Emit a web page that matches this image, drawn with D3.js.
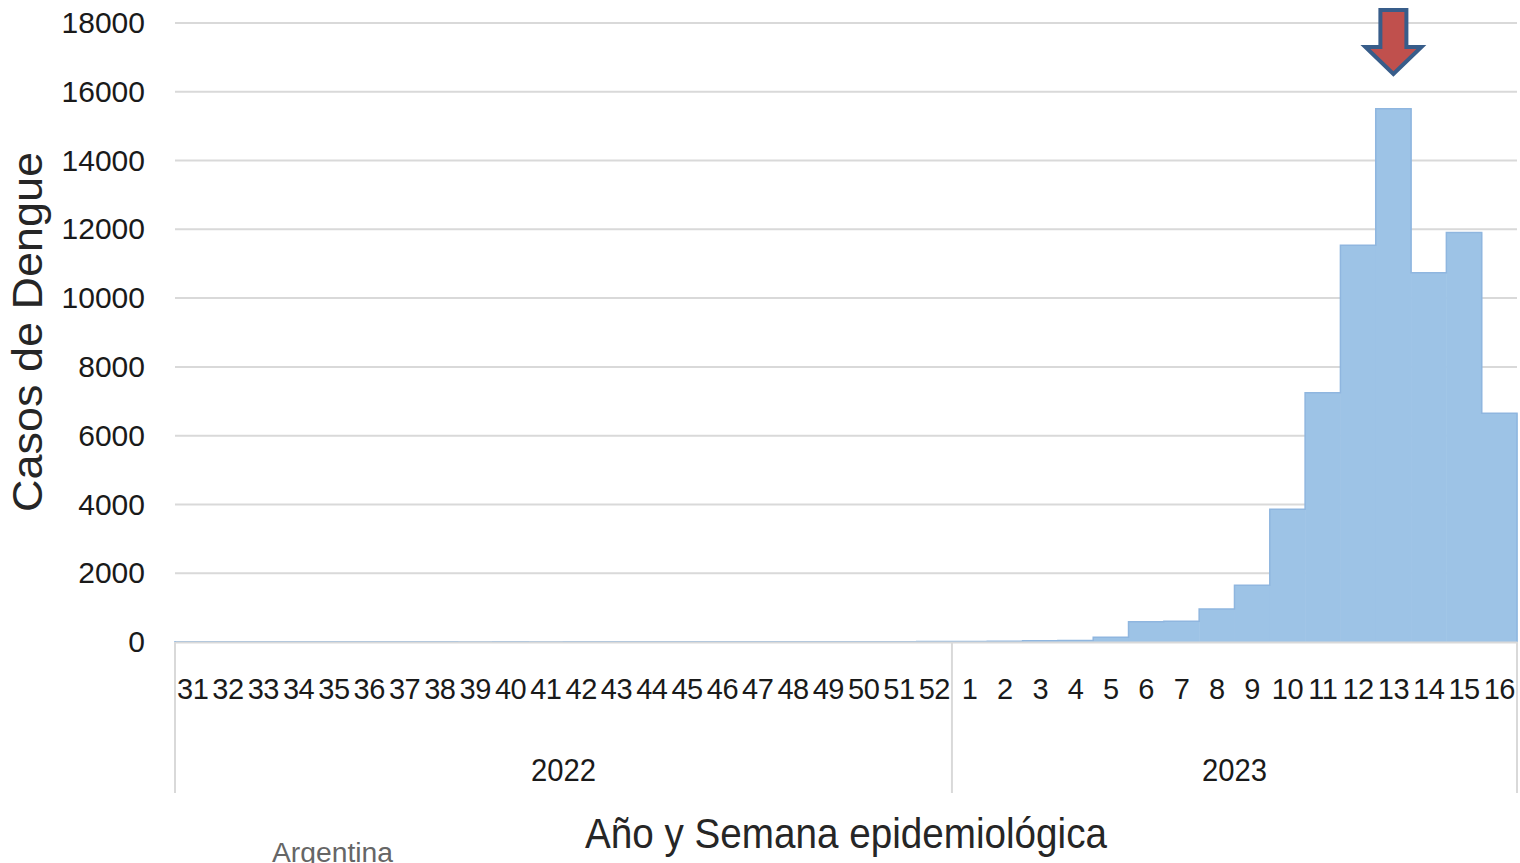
<!DOCTYPE html>
<html>
<head>
<meta charset="utf-8">
<script src="https://cdn.jsdelivr.net/npm/d3@7"></script>
<style>
  body { margin: 0; background: #fff; }
  text { font-family: "Liberation Sans", Arial, sans-serif; }
</style>
</head>
<body>
<div id="chart-area"></div>
<script>
// week labels and case counts
var weeks2022 = ["31","32","33","34","35","36","37","38","39","40","41","42","43","44","45","46","47","48","49","50","51","52"];
var cases2022 = [8, 6, 5, 5, 4, 4, 5, 4, 3, 4, 3, 4, 5, 4, 5, 6, 6, 7, 8, 9, 10, 12];
var weeks2023 = ["1","2","3","4","5","6","7","8","9","10","11","12","13","14","15","16"];
var cases2023 = [15, 20, 35, 45, 140, 590, 600, 960, 1650, 3860, 7250, 11540, 15510, 10740, 11910, 6650];
var years = ["2022", "2023"];
var yTicks = [0, 2000, 4000, 6000, 8000, 10000, 12000, 14000, 16000, 18000];
var peakWeek = "2023-13";

var width = 1520;
var height = 863;
var margin = {left: 175, right: 1517, top: 23, bottom: 642};

var data = [];
weeks2022.forEach((w, i) => { data.push({year: "2022", week: w, key: "2022-" + w, value: cases2022[i]}); });
weeks2023.forEach((w, i) => { data.push({year: "2023", week: w, key: "2023-" + w, value: cases2023[i]}); });

var svg = d3.select("#chart-area")
    .append("svg")
    .attr("width", width)
    .attr("height", height);

var x = d3.scaleBand()
    .domain(data.map((d) => d.key))
    .range([margin.left, margin.right])
    .padding(0);

var y = d3.scaleLinear()
    .domain([0, 18000])
    .range([margin.bottom, margin.top]);

// gridlines
svg.append("g")
    .selectAll("line")
    .data(yTicks)
    .enter()
    .append("line")
    .attr("x1", margin.left)
    .attr("x2", margin.right)
    .attr("y1", (d) => y(d))
    .attr("y2", (d) => y(d))
    .attr("stroke", "#d9d9d9")
    .attr("stroke-width", 2);

// bars
svg.append("g")
    .selectAll("rect")
    .data(data)
    .enter()
    .append("rect")
    .attr("x", (d) => x(d.key))
    .attr("y", (d) => y(d.value))
    .attr("width", x.bandwidth() + 0.5)
    .attr("height", (d) => margin.bottom - y(d.value))
    .attr("fill", "#9dc3e6");

// bar outline (step)
var steps = [];
data.forEach((d) => {
    steps.push([x(d.key), y(d.value)]);
    steps.push([x(d.key) + x.bandwidth(), y(d.value)]);
});
svg.append("path")
    .attr("d", d3.line()([[margin.left, margin.bottom]].concat(steps).concat([[margin.right, margin.bottom]])))
    .attr("fill", "none")
    .attr("stroke", "#8fb6df")
    .attr("stroke-width", 1.5);

// y axis
var yAxis = d3.axisLeft(y)
    .tickValues(yTicks)
    .tickSize(0)
    .tickPadding(30)
    .tickFormat(d3.format("d"));
var yg = svg.append("g")
    .attr("transform", "translate(" + margin.left + ",0)")
    .call(yAxis);
yg.select(".domain").remove();
yg.selectAll("text")
    .attr("font-size", "30px")
    .attr("fill", "#1a1a1a")
    .attr("font-family", "'Liberation Sans', Arial, sans-serif");

// x axis (weeks)
var xAxis = d3.axisBottom(x)
    .tickSize(0)
    .tickPadding(36)
    .tickFormat((k) => k.split("-")[1]);
var xg = svg.append("g")
    .attr("transform", "translate(0," + margin.bottom + ")")
    .call(xAxis);
xg.select(".domain")
    .attr("stroke", "#d9d9d9")
    .attr("stroke-width", 2);
xg.selectAll("text")
    .attr("font-size", "29px")
    .attr("fill", "#1a1a1a")
    .attr("font-family", "'Liberation Sans', Arial, sans-serif")
    .attr("letter-spacing", "-0.5px");

// category separators
var sep = [margin.left, x("2023-1"), margin.right];
svg.append("g")
    .selectAll("line")
    .data(sep)
    .enter()
    .append("line")
    .attr("x1", (d) => d)
    .attr("x2", (d) => d)
    .attr("y1", margin.bottom)
    .attr("y2", 793)
    .attr("stroke", "#d9d9d9")
    .attr("stroke-width", 2);

// year labels
svg.append("g")
    .selectAll("text")
    .data(years)
    .enter()
    .append("text")
    .attr("x", (yr) => {
        var ks = data.filter((d) => d.year === yr);
        return (x(ks[0].key) + x(ks[ks.length - 1].key) + x.bandwidth()) / 2;
    })
    .attr("y", 781)
    .attr("text-anchor", "middle")
    .attr("font-size", "31px")
    .attr("fill", "#1a1a1a")
    .attr("textLength", 65)
    .attr("lengthAdjust", "spacingAndGlyphs")
    .text((d) => d);

// axis titles
svg.append("text")
    .attr("x", 846)
    .attr("y", 848)
    .attr("text-anchor", "middle")
    .attr("font-size", "42px")
    .attr("fill", "#262626")
    .attr("textLength", 522)
    .attr("lengthAdjust", "spacingAndGlyphs")
    .text("Año y Semana epidemiológica");

svg.append("text")
    .attr("transform", "translate(42,332) rotate(-90)")
    .attr("text-anchor", "middle")
    .attr("font-size", "42px")
    .attr("fill", "#262626")
    .attr("font-family", "'DejaVu Sans', sans-serif")
    .attr("textLength", 360)
    .attr("lengthAdjust", "spacingAndGlyphs")
    .text("Casos de Dengue");

svg.append("text")
    .attr("x", 272)
    .attr("y", 862)
    .attr("font-size", "27px")
    .attr("fill", "#666")
    .attr("font-family", "'Open Sans', sans-serif")
    .attr("textLength", 121)
    .attr("lengthAdjust", "spacingAndGlyphs")
    .text("Argentina");

// arrow pointing at the peak week
var ax = x(peakWeek) + x.bandwidth() / 2;
var arrow = [
    [ax - 13, 10], [ax + 13, 10], [ax + 13, 47], [ax + 28, 47],
    [ax, 74], [ax - 28, 47], [ax - 13, 47]
];
svg.append("path")
    .attr("d", d3.line()(arrow) + "Z")
    .attr("fill", "#c0504d")
    .attr("stroke", "#385d8a")
    .attr("stroke-width", 4)
    .attr("stroke-linejoin", "miter");
</script>
</body>
</html>
